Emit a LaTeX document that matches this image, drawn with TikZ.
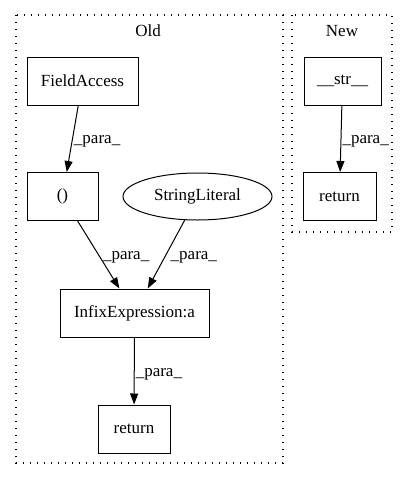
\documentclass[tikz,border=0pt]{standalone}
\usepackage{fontspec}
\setmainfont{Liberation Serif}
\usetikzlibrary{%
    arrows.meta,
    positioning,
    shapes.geometric
}
\tikzset{headarrow/.style = {-{Triangle[length=11pt,width=8pt]}, line width=1pt}}
\tikzset{opbox/.style = {draw, rectangle, line width=1pt, minimum height=48pt, inner sep=0pt}}
\tikzset{cluster/.style = {line width=1.2pt, dash pattern=on 1.2pt off 5.8pt}}
\tikzset{edgelabel/.style = {right, inner sep=1pt, yshift=-3pt}}

\begin{document}
\begin{tikzpicture}[x=1pt, y=-1pt, font=\fontsize{17}{19}\selectfont]
    \useasboundingbox (0,0) rectangle (408,480);

    % clusters
    \draw[cluster] (16,15) rectangle (283,463);
    \draw[cluster] (292,15) rectangle (392,232);
    \node (old-label) at (148,31) {Old};
    \node (new-label) at (342,31) {New};

    % old
    \node[opbox, minimum width=111pt] (old-field) at (82.5,81) {FieldAccess};
    \node[opbox, minimum width=71pt] (old-paren) at (62.5,196.5) {()};
    \node[draw, ellipse, line width=1pt, minimum width=149pt, minimum height=47pt, inner sep=0pt]
        (old-string) at (197.5,196.5) {StringLiteral};
    \node[opbox, minimum width=149pt] (old-infix) at (134.5,313) {InfixExpression:a};
    \node[opbox, minimum width=72pt] (old-return) at (134,429) {return};

    \draw[headarrow] (old-field) to node [edgelabel] {\_para\_} (old-paren);
    \draw[headarrow] (old-paren) to node [edgelabel, xshift=3pt] {\_para\_} (old-infix);
    \draw[headarrow] (old-string) to node [edgelabel, xshift=3pt] {\_para\_} (old-infix);
    \draw[headarrow] (old-infix) to node [edgelabel] {\_para\_} (old-return);

    % new
    \node[opbox, minimum width=77pt] (new-str) at (342.5,81) {\_\_str\_\_};
    \node[opbox, minimum width=73pt] (new-return) at (339.5,196.5) {return};

    \draw[headarrow] (new-str) to node [edgelabel] {\_para\_} (new-return);
\end{tikzpicture}
\end{document}
